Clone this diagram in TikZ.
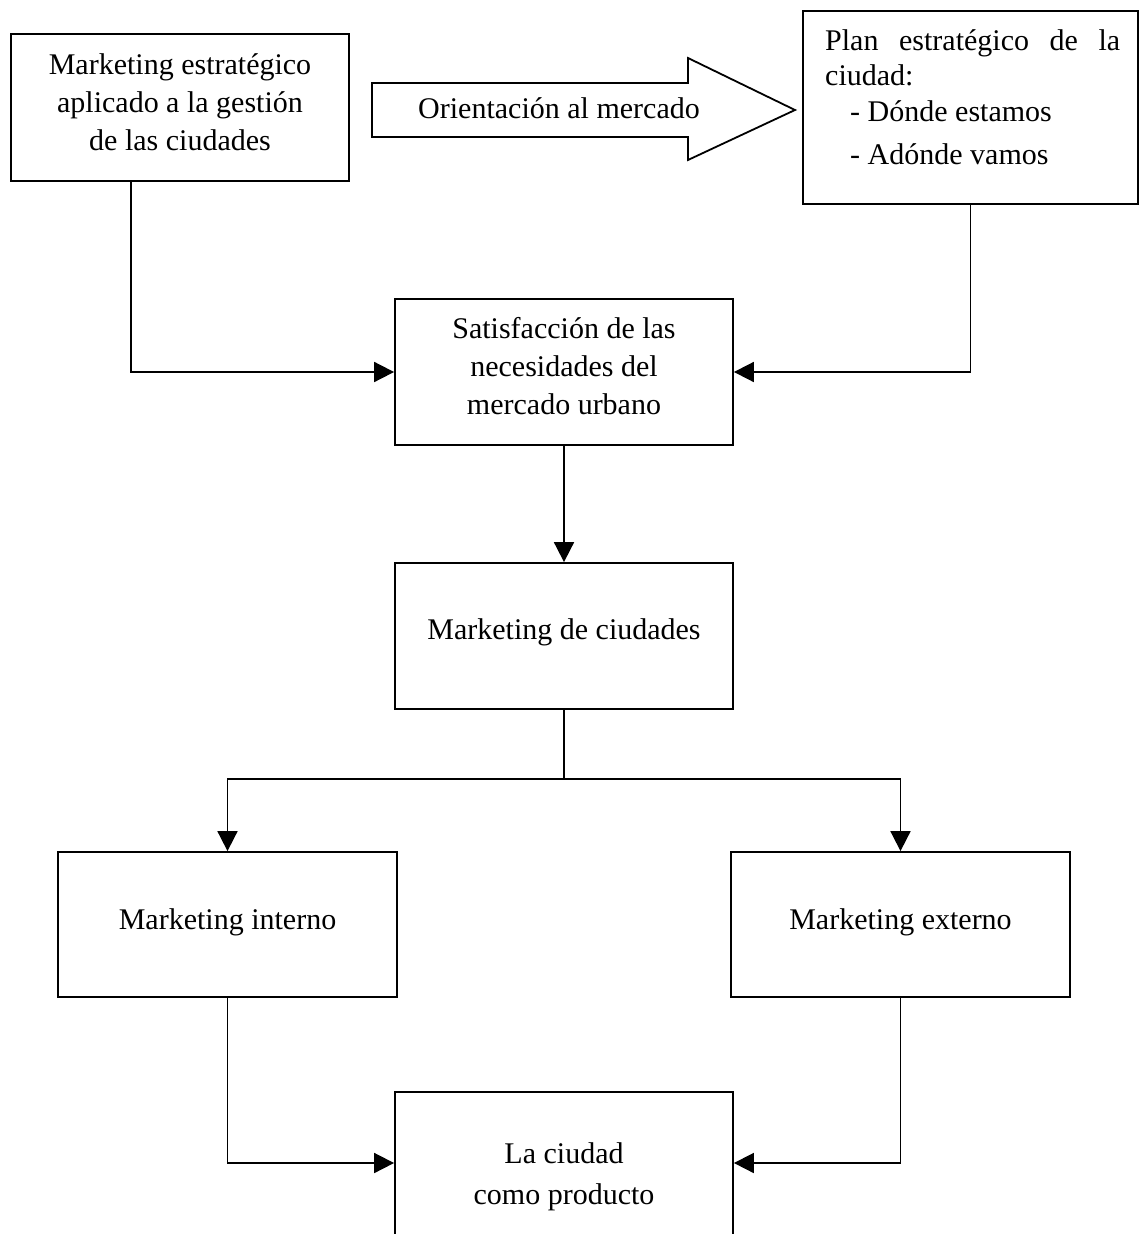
\documentclass[tikz,border=0pt]{standalone}
\usepackage{fontspec}
\setmainfont{Liberation Serif}
\usetikzlibrary{arrows.meta}
\begin{document}
\begin{tikzpicture}[x=1pt,y=-1pt,
  box/.style={draw, line width=1.8pt, rectangle, inner sep=0pt, minimum width=338pt},
  txt/.style={inner sep=0pt, align=center, font=\fontsize{30}{38}\selectfont},
  txtl/.style={inner sep=0pt, font=\fontsize{30}{38}\selectfont},
  link/.style={draw, line width=1.8pt},
  conn/.style={link, -{Triangle[length=20pt,width=20pt]}}]
\clip (0,0) rectangle (1140,1234);
\fill[white] (0,0) rectangle (1140,1234);
% top left box
\node[box, minimum height=147pt] (A) at (180,107.5) {};
\node[txt] (Atext) at (180,102) {Marketing estratégico\\aplicado a la gestión\\de las ciudades};
% top right box
\node[box, minimum width=335pt, minimum height=193pt] (B) at (970.5,107.5) {};
\node[txtl, anchor=base west] (B1) at (825,50) {\makebox[295pt][s]{Plan estratégico de la}};
\node[txtl, anchor=base west] (B2) at (825,85) {ciudad:};
\node[txtl, anchor=base west] (B3) at (850,121) {- Dónde estamos};
\node[txtl, anchor=base west] (B4) at (850,164) {- Adónde vamos};
% block arrow
\draw[line width=1.8pt, line join=miter] (372,83) -- (688,83) -- (688,58) -- (795,110) -- (688,160) -- (688,137) -- (372,137) -- cycle;
\node[txt] (orient) at (559,108) {Orientación al mercado};
% middle boxes
\node[box, minimum height=146pt] (C) at (564,372) {};
\node[txt] (Ctext) at (564,366) {Satisfacción de las\\necesidades del\\mercado urbano};
\node[box, minimum height=146pt] (D) at (564,636) {};
\node[txt] (Dtext) at (564,632) {Marketing de ciudades};
\node[box, minimum width=339pt, minimum height=145pt] (E) at (227.5,924.5) {};
\node[txt] (Etext) at (227.5,922) {Marketing interno};
\node[box, minimum width=339pt, minimum height=145pt] (F) at (900.5,924.5) {};
\node[txt] (Ftext) at (900.5,922) {Marketing externo};
\node[box, minimum height=160pt] (G) at (564,1172) {};
\node[txt] (Gtext) at (564,1177) {La ciudad\\[3pt]como producto};
% connectors
\draw[conn] ([xshift=-49pt]A.south) |- (C.west);
\draw[conn] (B.south) |- (C.east);
\draw[conn] (C) -- (D);
\coordinate (split) at (564,779);
\draw[link] (D.south) -- (split);
\draw[conn] (split) -| (E.north);
\draw[conn] (split) -| (F.north);
\draw[conn] (E.south) |- ([yshift=9pt]G.west);
\draw[conn] (F.south) |- ([yshift=9pt]G.east);
\end{tikzpicture}
\end{document}
